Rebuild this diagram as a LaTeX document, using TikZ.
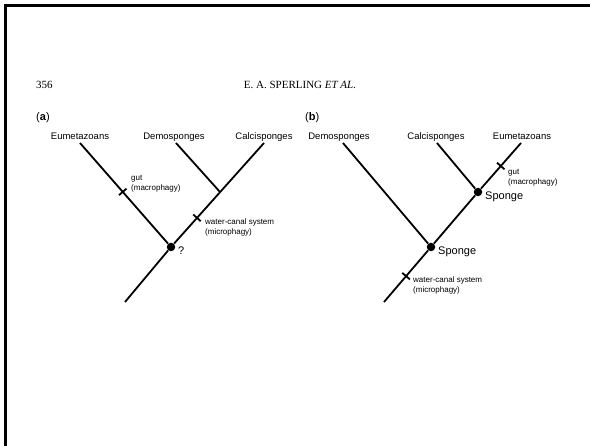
\documentclass[tikz,border=0pt]{standalone}
\usepackage{fontspec}
\setmainfont{Liberation Serif}
\setsansfont{Liberation Sans}
\usetikzlibrary{calc}

\begin{document}
\begin{tikzpicture}[x=1pt,y=-1pt]
\tikzstyle{taxon}=[font=\sffamily\fontsize{9.5}{11}\selectfont,anchor=base,inner sep=0]
\tikzstyle{branch}=[line width=1.8pt]
\tikzstyle{junction}=[circle,fill,inner sep=0,minimum size=8.5pt]
\tikzstyle{trait}=[font=\sffamily\fontsize{8}{10}\selectfont,align=left,anchor=north west,inner sep=0]
\tikzstyle{clade}=[font=\sffamily\fontsize{11}{13}\selectfont,anchor=west,inner sep=0]
\tikzstyle{panel}=[font=\sffamily\fontsize{11}{13}\selectfont,anchor=base west,inner sep=0]
\useasboundingbox (0,0) rectangle (590,446);
\draw[line width=3pt] (5.5,446) -- (5.5,5.5) -- (590,5.5);
% running head
\node[anchor=base west,font=\fontsize{11}{13}\selectfont,inner sep=0] (page) at (36,89) {356};
\node[anchor=base,font=\fontsize{11}{13}\selectfont,inner sep=0] (head) at (300,89) {E. A. SPERLING \textit{ET AL.}};
% (a)
\node[panel] (a) at (36,121) {(\textbf{a})};
\node[taxon] (eumetA) at (80,140) {Eumetazoans};
\node[taxon] (demoA) at (174,140) {Demosponges};
\node[taxon] (calciA) at (264,140) {Calcisponges};
\coordinate (tEa) at (80,143);
\coordinate (tDa) at (176,143);
\coordinate (tCa) at (264,143);
\coordinate (joinA) at (220,192);
\coordinate (baseA) at (125,302);
\node[junction] (rootA) at (171,247) {};
\node[clade] (qA) at (178,251) {?};
\draw[branch] (tEa) -- (rootA) (tCa) -- (rootA) (tDa) -- (joinA) (rootA) -- (baseA);
\coordinate (gutA) at ($(tEa)!0.47!(rootA)$);
\coordinate (canalA) at ($(joinA)!0.47!(rootA)$);
\draw[branch] ($(gutA)!5pt!90:(rootA)$) -- ($(gutA)!5pt!-90:(rootA)$);
\draw[branch] ($(canalA)!5pt!90:(rootA)$) -- ($(canalA)!5pt!-90:(rootA)$);
\node[trait] (gutlabelA) at (131,175) {gut\\(macrophagy)};
\node[trait] (canallabelA) at (205,219) {water-canal system\\(microphagy)};
% (b)
\node[panel] (b) at (305,121) {(\textbf{b})};
\node[taxon] (demoB) at (339,140) {Demosponges};
\node[taxon] (calciB) at (436,140) {Calcisponges};
\node[taxon] (eumetB) at (522,140) {Eumetazoans};
\coordinate (tDb) at (343,143);
\coordinate (tCb) at (437,143);
\coordinate (tEb) at (521,143);
\coordinate (baseB) at (384,302);
\node[junction] (upB) at (478,192) {};
\node[junction] (lowB) at (431,247) {};
\node[clade] (spongeUp) at (485,197) {Sponge};
\node[clade] (spongeLow) at (438,252) {Sponge};
\draw[branch] (tEb) -- (upB) (tCb) -- (upB) (upB) -- (lowB) (tDb) -- (lowB) (lowB) -- (baseB);
\coordinate (gutB) at ($(tEb)!0.47!(upB)$);
\coordinate (canalB) at ($(lowB)!0.53!(baseB)$);
\draw[branch] ($(gutB)!5pt!90:(upB)$) -- ($(gutB)!5pt!-90:(upB)$);
\draw[branch] ($(canalB)!5pt!90:(baseB)$) -- ($(canalB)!5pt!-90:(baseB)$);
\node[trait] (gutlabelB) at (508,169) {gut\\(macrophagy)};
\node[trait] (canallabelB) at (413,277) {water-canal system\\(microphagy)};
\end{tikzpicture}
\end{document}
